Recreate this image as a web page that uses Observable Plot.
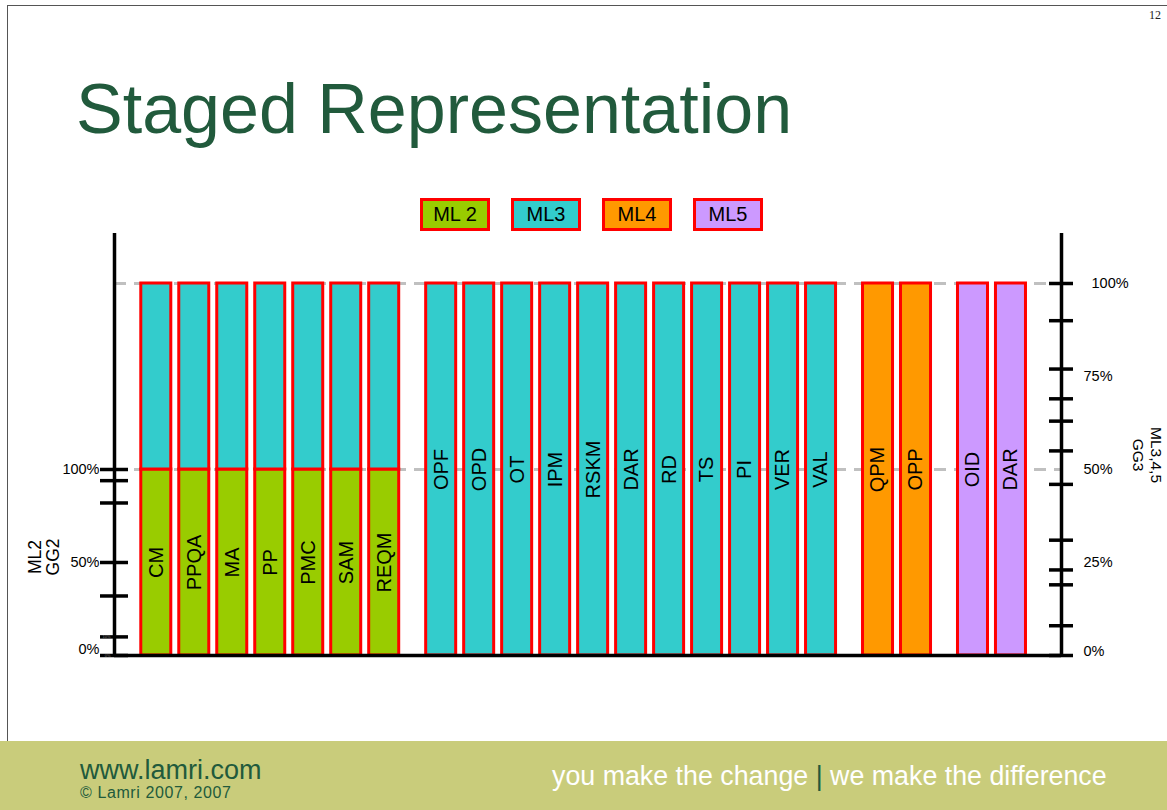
<!DOCTYPE html>
<html>
<head>
<meta charset="utf-8">
<script src="https://cdn.jsdelivr.net/npm/d3@7"></script>
<script src="https://cdn.jsdelivr.net/npm/@observablehq/plot@0.6"></script>
<style>
  html, body { margin: 0; padding: 0; background: #fff; }
  body { width: 1167px; height: 810px; position: relative; overflow: hidden;
         font-family: "Liberation Sans", Arial, sans-serif; }
  .abs { position: absolute; white-space: pre; }
  #frame { position: absolute; left: 7px; top: 5px; width: 1170px; height: 740px;
           border-left: 1.5px solid #555; border-top: 1.5px solid #555; }
  #title { left: 76px; top: 74px; font-size: 70px; line-height: 70px; color: #215a3c; }
  #pagenum { left: 1149px; top: 8px; font-family: "Liberation Serif", "DejaVu Serif", serif; font-size: 12px; color: #222; }
  #legend { position: absolute; left: 420px; top: 198px; display: flex; gap: 21px; }
  .lg { box-sizing: border-box; width: 70px; height: 33px; border: 3px solid #ff0000;
        font-size: 20px; line-height: 27px; text-align: center; color: #000; }
  #chart { position: absolute; left: 0; top: 220px; }
  .rot { position: absolute; text-align: center; color: #000; white-space: pre; }
  #footer { position: absolute; left: 0; top: 741px; width: 1167px; height: 69px; background: #c9cc7b; }
  #url { left: 80px; top: 757px; font-size: 27px; line-height: 27px; color: #215a3c; }
  #copy { left: 80px; top: 785px; font-size: 16px; line-height: 16px; letter-spacing: 0.6px; color: #215a3c; }
  #tag { left: 552px; top: 763px; font-size: 26.8px; line-height: 27px; color: #fff; }
  #tag .bar { color: #215a3c; }
</style>
</head>
<body>
<div id="frame"></div>
<div id="pagenum" class="abs">12</div>
<div id="title" class="abs">Staged Representation</div>
<div id="legend"></div>
<div id="chart"></div>
<div class="rot" style="left:44px; top:557px; font-size:17.5px; line-height:18px; transform: translate(-50%,-50%) rotate(-90deg);">ML2
GG2</div>
<div class="rot" style="left:1147px; top:455px; font-size:15.5px; line-height:18px; transform: translate(-50%,-50%) rotate(90deg);">ML3,4,5
GG3</div>
<div id="footer"></div>
<div id="url" class="abs">www.lamri.com</div>
<div id="copy" class="abs">© Lamri 2007, 2007</div>
<div id="tag" class="abs">you make the change <span class="bar">|</span> we make the difference</div>

<script>
// ---- data ----
const ml2 = ["CM", "PPQA", "MA", "PP", "PMC", "SAM", "REQM"];
const ml3 = ["OPF", "OPD", "OT", "IPM", "RSKM", "DAR", "RD", "TS", "PI", "VER", "VAL"];
const ml4 = ["QPM", "OPP"];
const ml5 = ["OID", "DAR"];
const levelNames = ["ML 2", "ML3", "ML4", "ML5"];
const levelColors = ["#99cc00", "#33cccc", "#ff9900", "#cc99ff"];
// percent of the right (ML3,4,5) scale
const ml2Level = 50;     // = 100% on the left ML2 scale
const fullLevel = 100;
const leftTicks = [100, 94, 82, 50, 32, 10, 0];            // left scale %
const leftTickLabels = [100, 50];
const leftTinyLabels = [10, 0];
const rightTicks = [100, 90, 77, 69, 63, 55, 46, 31, 23, 19, 8, 0];
const rightTickLabels = [75, 50, 25];
const dashLevels = [50, 100];

// ---- legend ----
const legend = document.getElementById("legend");
levelNames.forEach((n, i) => {
  const d = document.createElement("div");
  d.className = "lg";
  d.style.background = levelColors[i];
  d.textContent = n;
  legend.appendChild(d);
});

// ---- build bars ----
const groups = [ml2, ml3, ml4, ml5];
const bars = [];
let idx = 0;
groups.forEach((g, gi) => {
  g.forEach(name => {
    const slot = idx + 0.5 * gi;
    if (gi === 0) {
      bars.push({name, slot, y1: 0, y2: ml2Level, fill: levelColors[0], label: true, ly: ml2Level / 2});
      bars.push({name, slot, y1: ml2Level, y2: fullLevel, fill: levelColors[1], label: false});
    } else {
      bars.push({name, slot, y1: 0, y2: fullLevel, fill: levelColors[gi], label: true, ly: fullLevel / 2});
    }
    idx++;
  });
});

const xL = -1.1, xR = 23.83, yTop = 113.44;
const hw = 0.395;
const lt = 14 / 38, rt = 12 / 38;
const font = "Liberation Sans, Arial, sans-serif";
const pct = d => d + "%";

const chart = Plot.plot({
  width: 1167,
  height: 480,
  marginLeft: 114,
  marginRight: 106,
  marginTop: 13,
  marginBottom: 45,
  x: {domain: [xL, xR], axis: null},
  y: {domain: [0, yTop], axis: null},
  style: {background: "transparent", overflow: "visible", fontFamily: font},
  marks: [
    Plot.ruleY(dashLevels, {x1: xL, x2: xR, stroke: "#c0c0c0", strokeWidth: 3, strokeDasharray: "12,8"}),
    Plot.rect(bars, {x1: d => d.slot - hw, x2: d => d.slot + hw, y1: "y1", y2: "y2",
      fill: d => d.fill, stroke: "#ff0000", strokeWidth: 3}),
    Plot.text(bars.filter(d => d.label), {x: "slot", y: "ly", text: "name", rotate: -90,
      fontSize: 20, fill: "#000", fontFamily: font}),
    Plot.ruleX([xL, xR], {y1: 0, y2: yTop, stroke: "#000", strokeWidth: 3.5}),
    Plot.ruleY([0], {x1: xL, x2: xR, stroke: "#000", strokeWidth: 3.5}),
    Plot.ruleY(leftTicks.map(v => v / 2), {x1: xL - lt, x2: xL + lt, stroke: "#000", strokeWidth: 3.5}),
    Plot.ruleY(rightTicks, {x1: xR - rt, x2: xR + rt, stroke: "#000", strokeWidth: 3.5}),
    // left labels
    Plot.text(leftTickLabels, {x: xL, y: d => d / 2, text: pct, dx: -15,
      textAnchor: "end", fontSize: 14.5, fill: "#000", fontFamily: font}),
    Plot.text([0], {x: xL, y: d => d, text: pct, dx: -15, dy: -6,
      textAnchor: "end", fontSize: 14.5, fill: "#000", fontFamily: font}),
    Plot.text(leftTinyLabels, {x: xL, y: d => d / 2, text: pct, dx: -4,
      textAnchor: "end", fontSize: 4, fill: "#777", fontFamily: font}),
    // right labels
    Plot.text([100], {x: xR, y: d => d, text: pct, dx: 30,
      textAnchor: "start", fontSize: 14.5, fill: "#000", fontFamily: font}),
    Plot.text(rightTickLabels, {x: xR, y: d => d, text: pct, dx: 22,
      textAnchor: "start", fontSize: 14.5, fill: "#000", fontFamily: font}),
    Plot.text([0], {x: xR, y: d => d, text: pct, dx: 22, dy: -4,
      textAnchor: "start", fontSize: 14.5, fill: "#000", fontFamily: font})
  ]
});
document.getElementById("chart").appendChild(chart);
</script>
</body>
</html>
